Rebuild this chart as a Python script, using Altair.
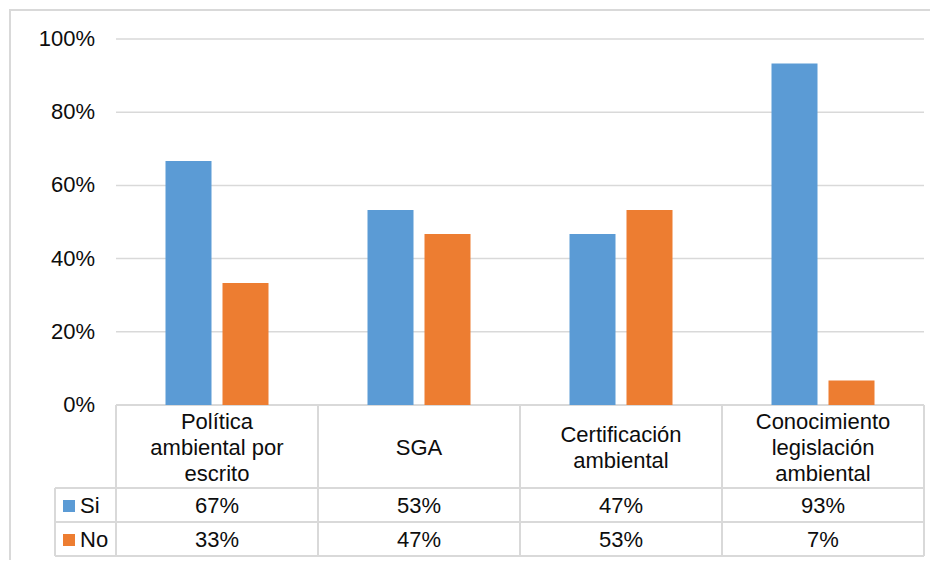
import altair as alt
import pandas as pd

# ---------------- data ----------------
categories = ["Política\nambiental por\nescrito", "SGA", "Certificación\nambiental",
              "Conocimiento\nlegislación\nambiental"]
si_values = [0.667, 0.533, 0.467, 0.933]
no_values = [0.333, 0.467, 0.533, 0.067]
series = ["Si", "No"]
colors = ["#5B9BD5", "#ED7D31"]
y_ticks = [0.0, 0.2, 0.4, 0.6, 0.8, 1.0]

# ---------------- layout (screen pixels -> data units) ----------------
W, H = 920, 551
VX0, VY0 = 10, 9          # screen position of the view's top-left corner
PLOT_X0, COL_W = 116, 202
ZERO_Y, PX_PER_UNIT = 405, 366
HEAD_BOTTOM, ROW1_BOTTOM, ROW2_BOTTOM = 488, 522, 556
LEG_X0 = 55
FONT = "Liberation Sans"
FS = 22
LH = 26
TXT = "#0d0d0d"
GRID = "#d9d9d9"


def xu(px):
    return (px - PLOT_X0) / COL_W


def yu(py):
    return (ZERO_Y - py) / PX_PER_UNIT


xs = alt.Scale(domain=[xu(VX0), xu(VX0 + W)], nice=False, zero=False)
ys = alt.Scale(domain=[yu(VY0 + H), yu(VY0)], nice=False, zero=False)
cs = alt.Scale(domain=series, range=colors)

n = len(categories)
bw = 46 / COL_W
gap = 11 / COL_W

# bars
rows = []
for i, cat in enumerate(categories):
    c = i + 0.5
    rows.append(dict(series="Si", value=si_values[i], base=0.0,
                     x=c - gap / 2 - bw, x2=c - gap / 2))
    rows.append(dict(series="No", value=no_values[i], base=0.0,
                     x=c + gap / 2, x2=c + gap / 2 + bw))
bars_df = pd.DataFrame(rows)

bars = alt.Chart(bars_df).mark_bar().encode(
    x=alt.X("x:Q", scale=xs, axis=None), x2="x2:Q",
    y=alt.Y("value:Q", scale=ys, axis=None), y2="base:Q",
    color=alt.Color("series:N", scale=cs, legend=None),
)

# gridlines
grid_df = pd.DataFrame({"y": [t for t in y_ticks if t > 0], "x": 0.0, "x2": float(n)})
grid = alt.Chart(grid_df).mark_rule(color=GRID, strokeWidth=1.5).encode(
    x=alt.X("x:Q", scale=xs, axis=None), x2="x2:Q",
    y=alt.Y("y:Q", scale=ys, axis=None),
)

# y axis labels
ylab_df = pd.DataFrame({"y": y_ticks, "x": xu(95)})
ylab = alt.Chart(ylab_df).mark_text(align="right", baseline="middle", font=FONT,
                                    fontSize=FS, color=TXT).encode(
    x=alt.X("x:Q", scale=xs, axis=None),
    y=alt.Y("y:Q", scale=ys, axis=None),
    text=alt.Text("y:Q", format=".0%"),
)

# table lines
hl = [(0.0, float(n), 0.0, 0.0)]
for py in (HEAD_BOTTOM, ROW1_BOTTOM, ROW2_BOTTOM):
    hl.append((xu(LEG_X0), float(n), yu(py), yu(py)))
vl = [(float(k), float(k), 0.0, yu(ROW2_BOTTOM)) for k in range(n + 1)]
vl.append((xu(LEG_X0), xu(LEG_X0), yu(HEAD_BOTTOM), yu(ROW2_BOTTOM)))
lines_df = pd.DataFrame(hl + vl, columns=["x", "x2", "y", "y2"])
tlines = alt.Chart(lines_df).mark_rule(color=GRID, strokeWidth=2).encode(
    x=alt.X("x:Q", scale=xs, axis=None), x2="x2:Q",
    y=alt.Y("y:Q", scale=ys, axis=None), y2="y2:Q",
)

# header text (multi-line, block centred in the header row)
head_center = (ZERO_Y + HEAD_BOTTOM) / 2 + 1
head_df = pd.DataFrame({
    "cat": categories,
    "x": [i + 0.5 for i in range(n)],
    "y": [yu(head_center - (c.count("\n")) * LH / 2) for c in categories],
})
head = alt.Chart(head_df).mark_text(align="center", baseline="middle", font=FONT,
                                    fontSize=FS, color=TXT, lineBreak="\n",
                                    lineHeight=LH).encode(
    x=alt.X("x:Q", scale=xs, axis=None),
    y=alt.Y("y:Q", scale=ys, axis=None),
    text="cat:N",
)

# value cells
r1c = (HEAD_BOTTOM + ROW1_BOTTOM) / 2 + 1
r2c = (ROW1_BOTTOM + ROW2_BOTTOM) / 2 + 1
cell_rows = []
for i in range(n):
    cell_rows.append(dict(x=i + 0.5, y=yu(r1c), value=si_values[i]))
    cell_rows.append(dict(x=i + 0.5, y=yu(r2c), value=no_values[i]))
cells_df = pd.DataFrame(cell_rows)
cells = alt.Chart(cells_df).mark_text(align="center", baseline="middle", font=FONT,
                                      fontSize=FS, color=TXT).encode(
    x=alt.X("x:Q", scale=xs, axis=None),
    y=alt.Y("y:Q", scale=ys, axis=None),
    text=alt.Text("value:Q", format=".0%"),
)

# legend keys inside the table
leg_df = pd.DataFrame({"series": series, "y": [yu(r1c), yu(r2c)],
                       "xs": xu(69), "xt": xu(80)})
leg_sq = alt.Chart(leg_df).mark_square(size=144, opacity=1).encode(
    x=alt.X("xs:Q", scale=xs, axis=None),
    y=alt.Y("y:Q", scale=ys, axis=None),
    color=alt.Color("series:N", scale=cs, legend=None),
)
leg_tx = alt.Chart(leg_df).mark_text(align="left", baseline="middle", font=FONT,
                                     fontSize=FS, color=TXT).encode(
    x=alt.X("xt:Q", scale=xs, axis=None),
    y=alt.Y("y:Q", scale=ys, axis=None),
    text="series:N",
)

# outer frame (top and left edges visible)
frame_top = alt.Chart(pd.DataFrame({"a": [0]})).mark_rule(color=GRID, strokeWidth=2).encode(
    x=alt.value(0), x2=alt.value(W), y=alt.value(1))
frame_left = alt.Chart(pd.DataFrame({"a": [0]})).mark_rule(color=GRID, strokeWidth=2).encode(
    x=alt.value(0), y=alt.value(0), y2=alt.value(H))

chart = alt.layer(grid, tlines, bars, ylab, head, cells, leg_sq, leg_tx,
                  frame_top, frame_left).properties(
    width=W, height=H,
    autosize=alt.AutoSizeParams(type="none"),
    padding={"left": 2, "top": 1, "right": 0, "bottom": 0},
    background="white",
).configure_view(stroke=None)

chart.save("out.html", embed_options={"renderer": "svg", "actions": False})
